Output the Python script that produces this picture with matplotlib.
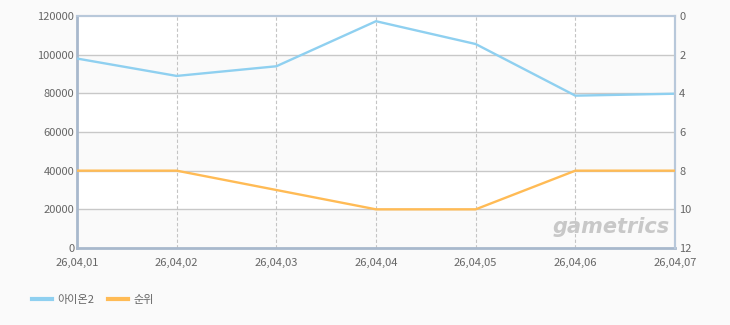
import matplotlib
matplotlib.use("Agg")
import matplotlib.pyplot as plt
from matplotlib.lines import Line2D

plt.rcParams['font.family'] = ['Noto Sans CJK KR', 'DejaVu Sans']

dates = ["26,04,01", "26,04,02", "26,04,03", "26,04,04", "26,04,05", "26,04,06", "26,04,07"]
aion2 = [98000, 89000, 94000, 117300, 105500, 78800, 79800]
rank = [8, 8, 9, 10, 10, 8, 8]
series_names = ["아이온2", "순위"]
left_ticks = [0, 20000, 40000, 60000, 80000, 100000, 120000]
right_ticks = [0, 2, 4, 6, 8, 10, 12]

W, H = 730, 325
fig = plt.figure(figsize=(W/100, H/100), dpi=100)
fig.patch.set_facecolor('#fafafa')
ax = fig.add_axes([77/W, 1-248/H, (675-77)/W, (248-16)/H])
ax.set_facecolor('white')
x = list(range(len(dates)))
ax.set_xlim(0, len(dates)-1)
ax.set_ylim(0, 120000)

for i in range(len(left_ticks)-1):
    if (len(left_ticks)-2-i) % 2 == 1:
        ax.axhspan(left_ticks[i], left_ticks[i+1], color='#fafafa', zorder=0, lw=0)
for t in left_ticks[1:-1]:
    ax.axhline(t, color='#c8c8c8', lw=1, zorder=1)
for xi in x[1:-1]:
    ax.axvline(xi, color='#c4c4c4', lw=0.8, ls=(0, (3, 2)), zorder=1)

ax.plot(x, aion2, color='#8fd0f0', lw=1.7, zorder=3, solid_joinstyle='round')
ax.set_yticks(left_ticks)
ax.set_xticks(x)
ax.set_xticklabels(dates)
ax.tick_params(axis='both', length=0, colors='#666666', labelsize=8)
ax.tick_params(axis='y', pad=2)
ax.tick_params(axis='x', pad=7)

ax2 = ax.twinx()
ax2.set_ylim(12, 0)
ax2.set_yticks(right_ticks)
ax2.plot(x, rank, color='#ffbb55', lw=1.7, zorder=3)
ax2.tick_params(axis='y', length=0, colors='#666666', labelsize=8, pad=3)

for a in (ax, ax2):
    for s in a.spines.values():
        s.set_color('#b8c8da')
        s.set_linewidth(1.5)
ax.spines['left'].set_color('#a8b8cc')
ax.spines['left'].set_linewidth(2)
ax.spines['bottom'].set_color('#a8b8cc')
ax.spines['bottom'].set_linewidth(2)
ax2.spines['left'].set_visible(False)
ax2.spines['bottom'].set_visible(False)

fig.text(611/W, 1-227/H, "gametrics", fontsize=15, color='#c8c8c8', style='italic',
         fontweight='bold', ha='center', va='center', family=['DejaVu Sans'])

handles = [Line2D([], [], color='#8fd0f0', lw=3), Line2D([], [], color='#ffbb55', lw=3)]
fig.legend(handles, series_names, loc='center left', bbox_to_anchor=(22/W, 1-300/H),
           ncol=2, frameon=False, fontsize=8, labelcolor='#666666', handlelength=1.8,
           handletextpad=0.5, columnspacing=1.2)

fig.savefig("out.png", dpi=100, facecolor=fig.get_facecolor())
